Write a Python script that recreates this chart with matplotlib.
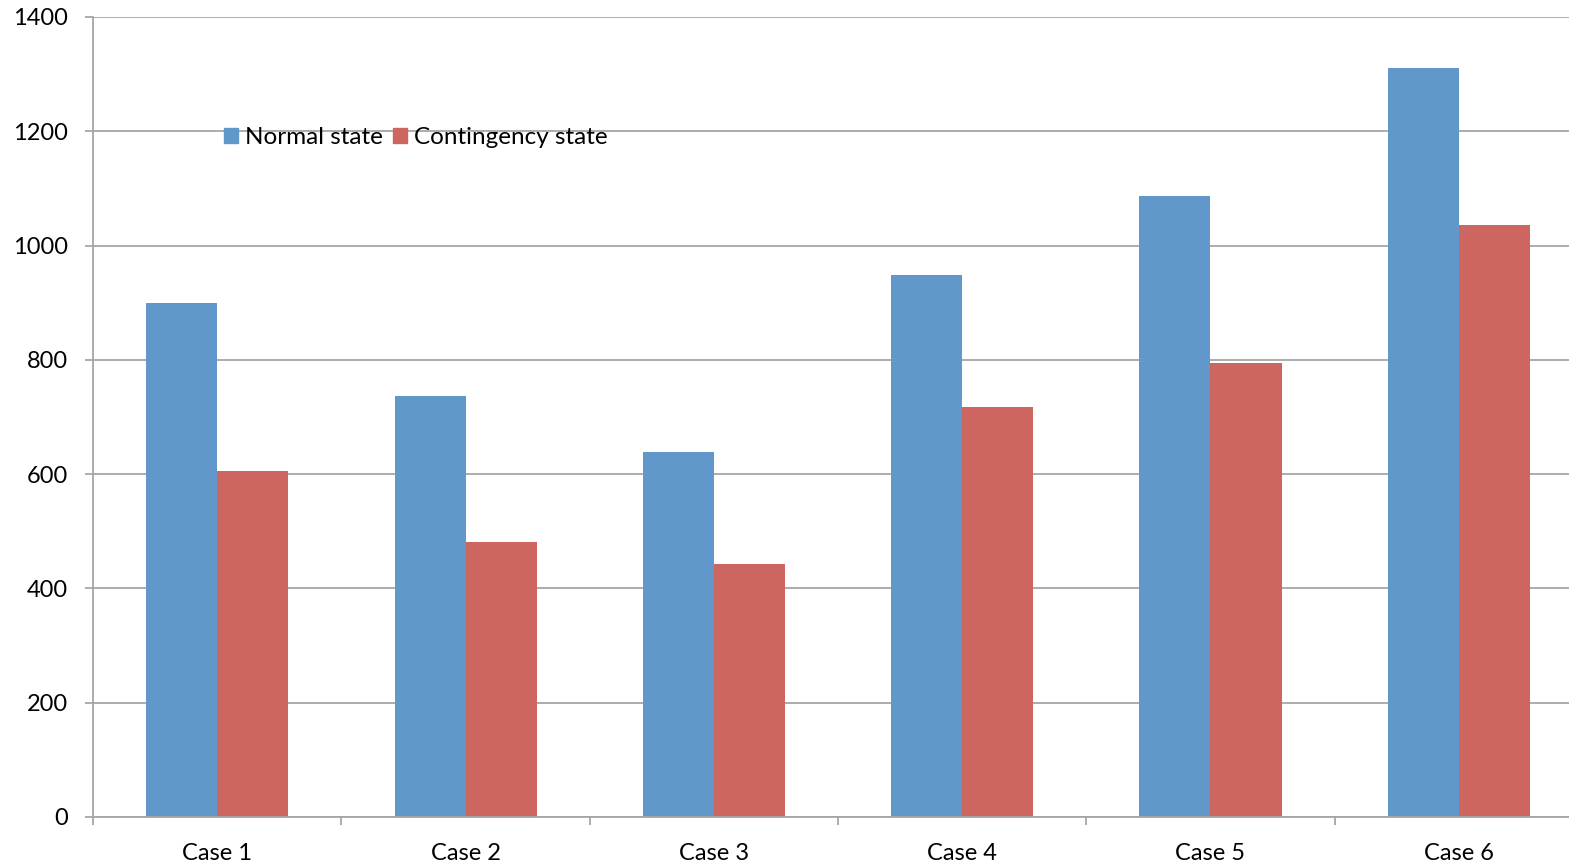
import matplotlib.pyplot as plt
import numpy as np
from matplotlib.patches import Patch

plt.rcParams['font.family'] = ['Lato', 'DejaVu Sans']

cases = ['Case 1', 'Case 2', 'Case 3', 'Case 4', 'Case 5', 'Case 6']
normal = [900, 737, 639, 949, 1087, 1311]
contingency = [605, 481, 443, 717, 794, 1036]

blue = '#6197CB'
red = '#CD6661'
grey = '#A6A6A6'

fig = plt.figure(figsize=(15.69, 8.66), dpi=100)
ax = fig.add_axes([0.0593, 0.0566, 0.9496, 0.9238])

x = np.arange(len(cases))
w = 0.286
ax.bar(x - w / 2, normal, w, color=blue, zorder=2)
ax.bar(x + w / 2, contingency, w, color=red, zorder=2)

ax.set_xlim(-0.5, 5.5)
ax.set_ylim(0, 1400)
ax.set_yticks(range(0, 1401, 200))
ax.yaxis.grid(True, color=grey, linewidth=1.3, zorder=0)

# category labels at centres, tick marks on the boundaries
ax.set_xticks(x)
ax.set_xticklabels(cases)
ax.set_xticks(np.arange(-0.5, 6.0, 1.0), minor=True)
ax.tick_params(axis='x', which='major', length=0, pad=19, labelsize=17)
ax.tick_params(axis='x', which='minor', length=6, width=1.3, color=grey)
ax.tick_params(axis='y', length=6, width=1.3, color=grey, pad=12, labelsize=17)

for side in ['top', 'right']:
    ax.spines[side].set_visible(False)
for side in ['left', 'bottom']:
    ax.spines[side].set_color(grey)
    ax.spines[side].set_linewidth(1.3)

handles = [Patch(color=blue, label='Normal state'),
           Patch(color=red, label='Contingency state')]
ax.legend(handles=handles, ncol=2, frameon=False, fontsize=17.5,
          loc='center left', bbox_to_anchor=(0.1428, 0.841),
          bbox_transform=fig.transFigure, borderpad=0, borderaxespad=0,
          handlelength=0.58, handleheight=0.58, handletextpad=0.29,
          columnspacing=0.41)

fig.savefig('out.png', dpi=100)
